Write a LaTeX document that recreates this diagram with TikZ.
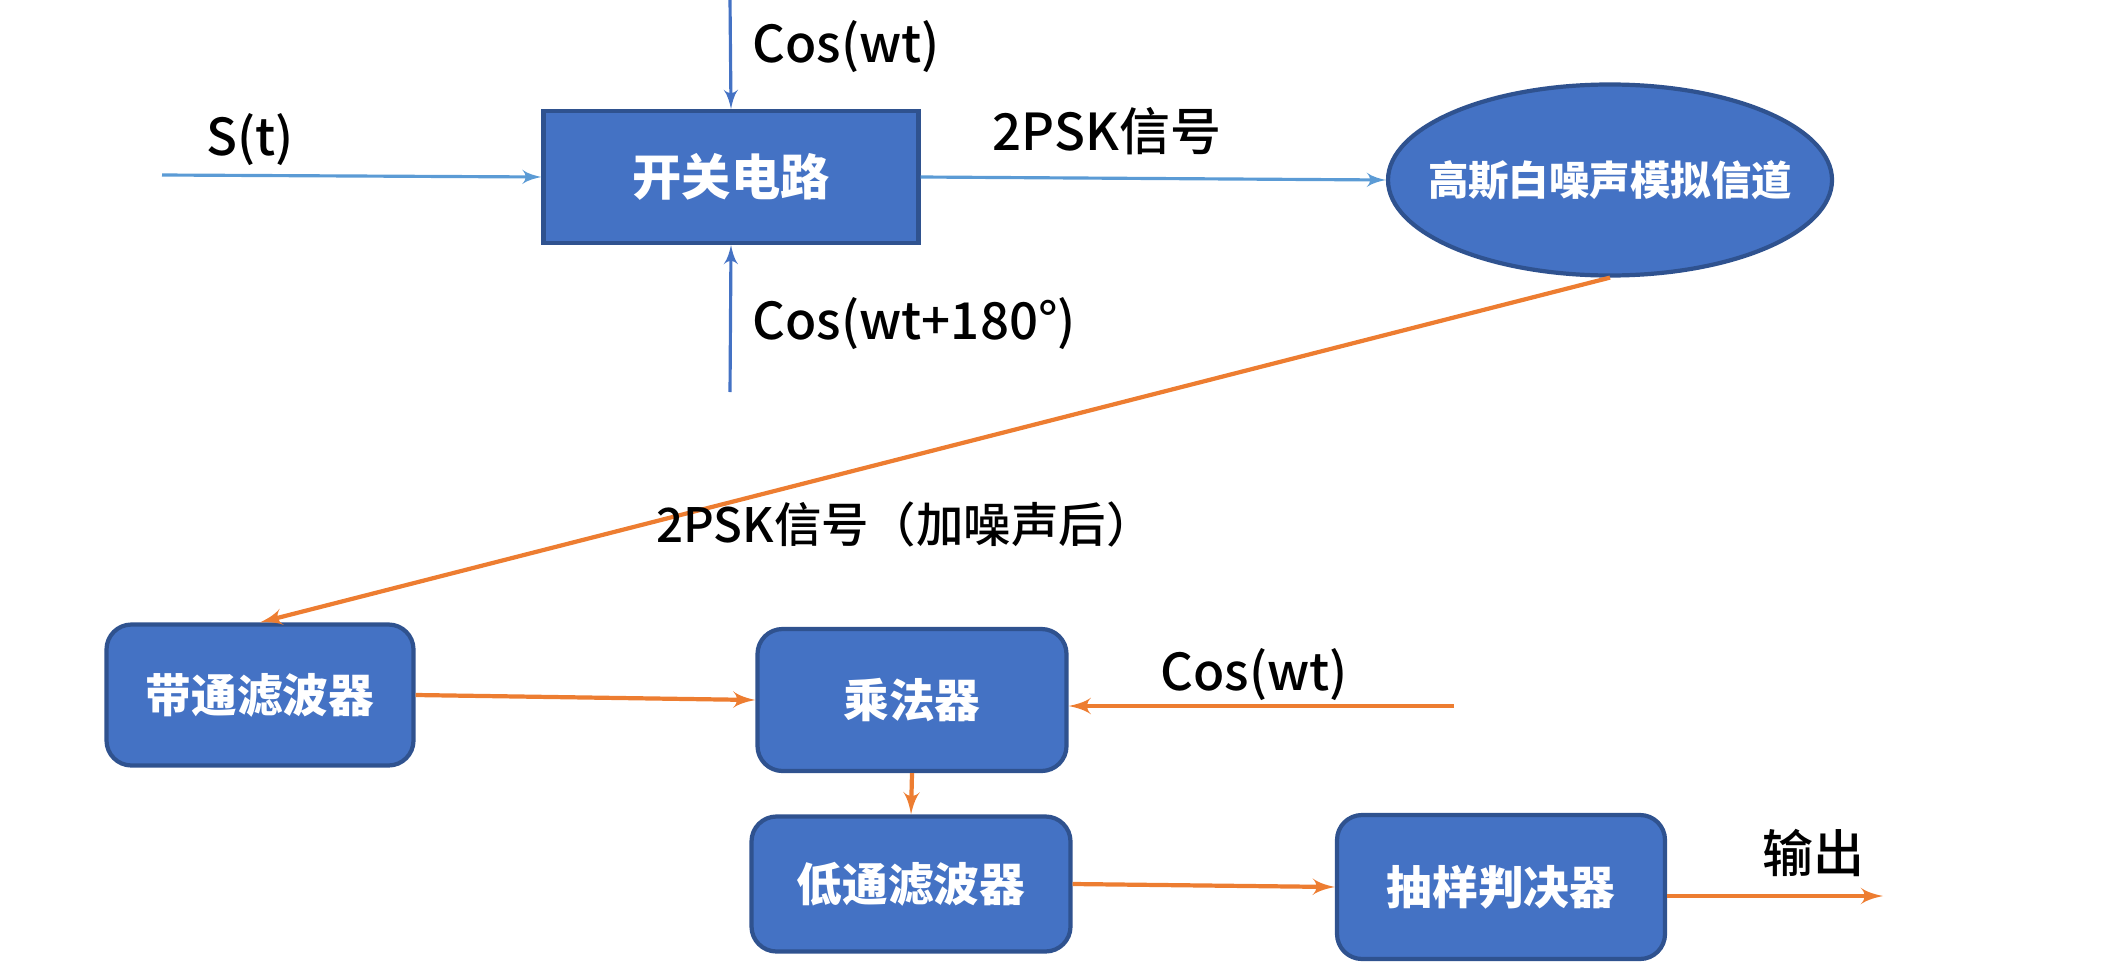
\documentclass[tikz,border=0pt]{standalone}
\usepackage{fontspec}
\setmainfont{Noto Sans CJK SC}
\newfontfamily\labelfont{Noto Sans CJK SC Medium}
\usepackage{tikz}
\usetikzlibrary{shapes,arrows,shapes.geometric,positioning,calc}
\usepackage{xcolor}
\definecolor{boxFillColor}{HTML}{4472C4}
\definecolor{boxDrawColor}{HTML}{2F528F}
\definecolor{lightBlueColor}{HTML}{5B9BD5}
\definecolor{orangeColor}{HTML}{ED7D31}
\tikzset{
  blockNode/.style = {align=center, inner sep=0pt, text centered,
    fill=boxFillColor, draw=boxDrawColor, line width=1.2pt, text=white,
    font=\bfseries\fontsize{14}{16}\selectfont},
  sharpBox/.style = {blockNode, rectangle, minimum width=3.75cm, minimum height=1.32cm},% bloc carre
  roundBox/.style = {blockNode, rectangle, rounded corners=0.25cm, font=\bfseries\fontsize{13}{15}\selectfont},% bloc arrondi
  channelNode/.style = {blockNode, ellipse, inner xsep=-0.26cm, minimum width=4.44cm, minimum height=1.91cm, font=\bfseries\fontsize{11.5}{13}\selectfont},
  labelNode/.style = {inner sep=0pt, black, font=\labelfont\fontsize{14.5}{17}\selectfont},
  blueArrow/.style = {->, draw=boxFillColor, line width=0.9pt},
  lightArrow/.style = {->, draw=lightBlueColor, line width=0.9pt},
  orangeArrow/.style = {->, draw=orangeColor, line width=1.2pt},
}
\begin{document}
\begin{tikzpicture}[>=latex']
\useasboundingbox (0,0) rectangle (21.17,-9.76);
% modulation
\node [sharpBox] (switch) at (7.31,-1.77) {开关电路};
\node [channelNode] (channel) at (16.10,-1.80) {高斯白噪声模拟信道};
\coordinate (stIn) at (1.62,-1.75);
\coordinate (cosTop) at (7.30,0);
\coordinate (cosBottom) at (7.30,-3.92);
\draw [lightArrow] (stIn) -- (switch.west);
\draw [blueArrow] (cosTop) -- (switch.north);
\draw [blueArrow] (cosBottom) -- (switch.south);
\draw [lightArrow] (switch.east) -- (channel.west);
\node [labelNode] (stLabel) at (2.50,-1.40) {S(t)};
\node [labelNode, anchor=west] (cosTopLabel) at (7.52,-0.47) {Cos(wt)};
\node [labelNode, anchor=west] (cosBottomLabel) at (7.52,-3.24) {Cos(wt+180°)};
\node [labelNode] (pskLabel) at (11.07,-1.31) {2PSK信号};
% demodulation
\node [roundBox, minimum width=3.07cm, minimum height=1.41cm] (bandPass) at (2.60,-6.95) {带通滤波器};
\node [roundBox, minimum width=3.09cm, minimum height=1.42cm] (mult) at (9.12,-7.00) {乘法器};
\node [roundBox, minimum width=3.19cm, minimum height=1.35cm] (lowPass) at (9.11,-8.84) {低通滤波器};
\node [roundBox, minimum width=3.28cm, minimum height=1.44cm] (decide) at (15.01,-8.87) {抽样判决器};
\coordinate (cosRight) at (14.54,-7.06);
\coordinate (outEnd) at (18.83,-8.96);
\draw [orangeArrow] (channel.south) -- (bandPass.north);
\draw [orangeArrow] (bandPass.east) -- (mult.west);
\draw [orangeArrow] (cosRight) -- (mult.east |- cosRight);
\draw [orangeArrow] (mult.south) -- (lowPass.north);
\draw [orangeArrow] (lowPass.east) -- (decide.west);
\draw [orangeArrow] (decide.east |- outEnd) -- (outEnd);
\node [labelNode, font=\labelfont\fontsize{13.5}{15}\selectfont] (noiseLabel) at (9.05,-5.24) {2PSK信号（加噪声后）};
\node [labelNode] (cosRightLabel) at (12.54,-6.75) {Cos(wt)};
\node [labelNode] (outLabel) at (18.13,-8.53) {输出};
\end{tikzpicture}
\end{document}
